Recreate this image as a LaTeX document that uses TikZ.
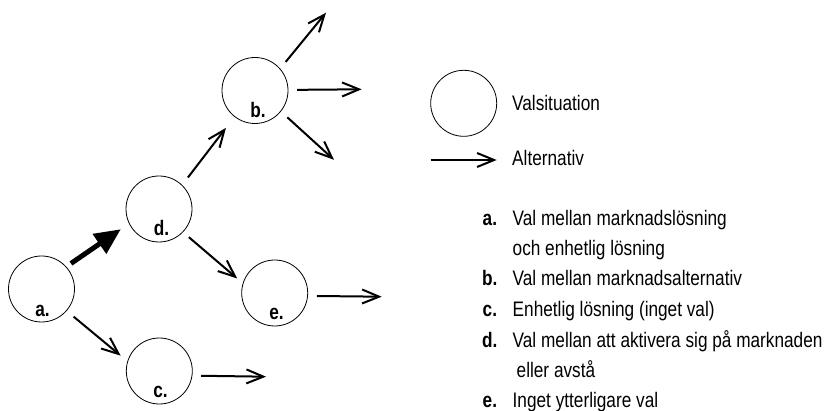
\documentclass[tikz,border=0pt]{standalone}
\usepackage{fontspec}
\setmainfont{Liberation Sans}[FakeStretch=0.82]
\usetikzlibrary{arrows.meta}
\begin{document}
\begin{tikzpicture}[x=1pt,y=-1pt,
  vs/.style={draw,circle,line width=0.8pt,minimum size=66pt,inner sep=0pt},
  lab/.style={font=\fontsize{21}{24}\selectfont\bfseries,anchor=base,inner sep=0pt},
  txt/.style={font=\fontsize{21}{24}\selectfont,anchor=base west,inner sep=0pt},
  key/.style={font=\fontsize{21}{24}\selectfont\bfseries,anchor=base west,inner sep=0pt},
  alt/.style={line width=2pt,-{Straight Barb[length=17pt,width=14pt]}},
  main/.style={line width=5pt,-{Triangle[length=26pt,width=23pt]}}]
\useasboundingbox (0,0) rectangle (825,411);
% decision nodes
\node[vs] (a) at (41.5,289) {};
\node[vs] (d) at (159,209) {};
\node[vs] (b) at (255,90.5) {};
\node[vs] (e) at (274.7,293) {};
\node[vs] (c) at (159.3,371) {};
\node[lab] (la) at (42.5,316.5) {a.};
\node[lab] (ld) at (161.5,236) {d.};
\node[lab] (lb) at (258,118) {b.};
\node[lab] (le) at (276.5,319.5) {e.};
\node[lab] (lc) at (160.5,398) {c.};
% free ends
\coordinate (b1) at (326,12.7);
\coordinate (b2) at (361.7,89.3);
\coordinate (b3) at (334,159.8);
\coordinate (e1) at (381.7,296.7);
\coordinate (c1) at (266,376.7);
% connectors
\draw[main,shorten <=5.6pt,shorten >=9.9pt] (a.42.4) -- (d.206.7);
\draw[alt,shorten <=9pt,shorten >=8.7pt] (a.-41) -- (c.163.7);
\draw[alt,shorten <=9.4pt,shorten >=13.9pt] (d.46.3) -- (b.232.6);
\draw[alt,shorten <=7.7pt,shorten >=7.3pt] (d.-44) -- (e.163);
\draw[alt,shorten <=8.6pt] (b.41.9) -- (b1);
\draw[alt,shorten <=8.7pt] (b.1.7) -- (b2);
\draw[alt,shorten <=8.6pt] (b.-39) -- (b3);
\draw[alt,shorten <=9pt] (e.-5.5) -- (e1);
\draw[alt,shorten <=8.7pt] (c.-8) -- (c1);
% legend
\node[vs] (lgc) at (463.7,103.3) {};
\node[txt] (lgct) at (512,110.5) {Valsituation};
\coordinate (lga0) at (430.7,160);
\coordinate (lga1) at (496.7,160);
\draw[alt] (lga0) -- (lga1);
\node[txt] (lgat) at (512,165.5) {Alternativ};
% list
\node[key] (ka) at (482.5,226) {a.};
\node[txt] (ta) at (512.5,226) {Val mellan marknadslösning};
\node[txt] (ta2) at (512.5,256) {och enhetlig lösning};
\node[key] (kb) at (482,286) {b.};
\node[txt] (tb) at (512.5,286) {Val mellan marknadsalternativ};
\node[key] (kc) at (482.5,317) {c.};
\node[txt] (tc) at (512.5,317) {Enhetlig lösning (inget val)};
\node[key] (kd) at (482,347.5) {d.};
\node[txt] (td) at (512.5,347.5) {Val mellan att aktivera sig på marknaden};
\node[txt] (td2) at (516.5,377.5) {eller avstå};
\node[key] (ke) at (482.5,407.5) {e.};
\node[txt] (te) at (512.5,407.5) {Inget ytterligare val};
\end{tikzpicture}
\end{document}
